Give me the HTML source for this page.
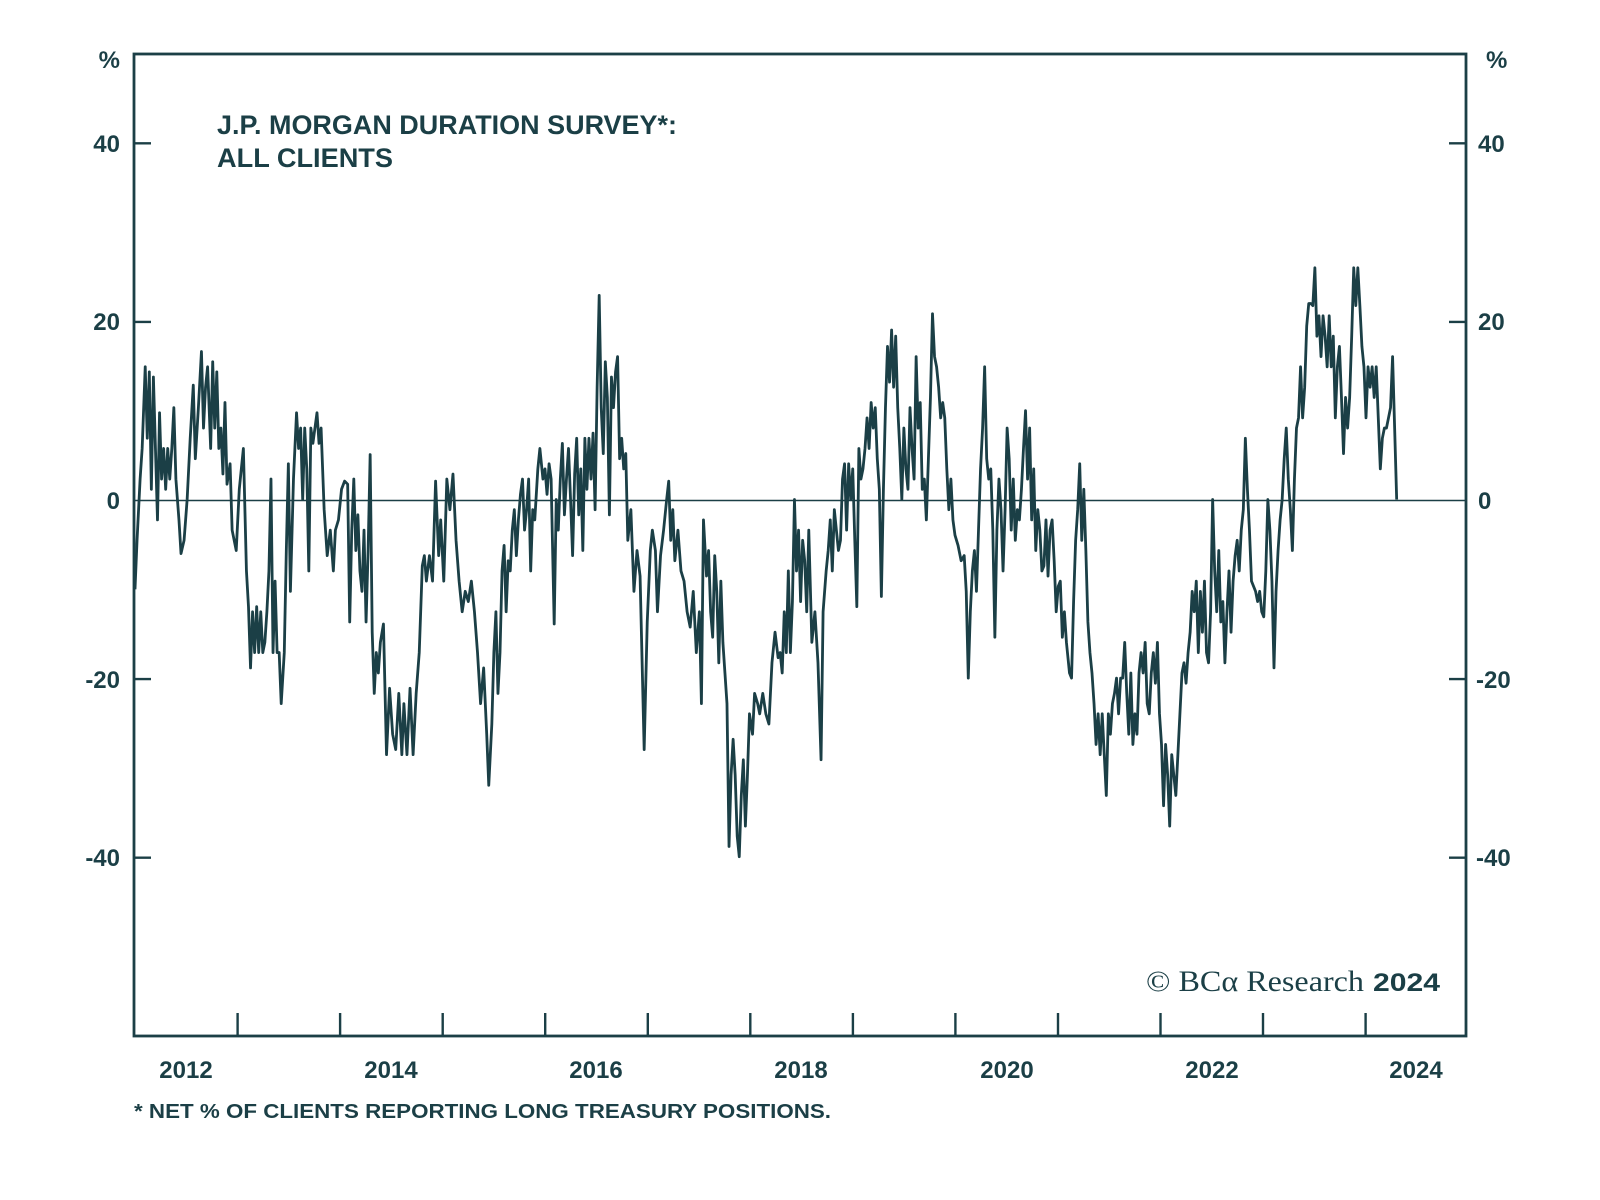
<!DOCTYPE html>
<html><head><meta charset="utf-8"><style>
html,body{margin:0;padding:0;background:#fff;}
svg{display:block;}
text{font-family:"Liberation Sans",sans-serif;fill:#1b3f46;}
</style></head><body>
<svg width="1600" height="1200" viewBox="0 0 1600 1200" xmlns="http://www.w3.org/2000/svg">
<rect width="1600" height="1200" fill="#fff"/>
<g stroke="#1b3f46" fill="none">
<rect x="134" y="54" width="1332" height="982" stroke-width="2.8"/>
<line x1="134" y1="500.5" x2="1466" y2="500.5" stroke-width="1.6"/>
<g stroke-width="2.4">
<line x1="134" y1="143.3" x2="151" y2="143.3"/><line x1="134" y1="321.9" x2="151" y2="321.9"/><line x1="134" y1="679.1" x2="151" y2="679.1"/><line x1="134" y1="857.7" x2="151" y2="857.7"/>
<line x1="1449" y1="143.3" x2="1466" y2="143.3"/><line x1="1449" y1="321.9" x2="1466" y2="321.9"/><line x1="1449" y1="679.1" x2="1466" y2="679.1"/><line x1="1449" y1="857.7" x2="1466" y2="857.7"/>
<line x1="237.6" y1="1013" x2="237.6" y2="1036"/><line x1="340.1" y1="1013" x2="340.1" y2="1036"/><line x1="442.7" y1="1013" x2="442.7" y2="1036"/><line x1="545.2" y1="1013" x2="545.2" y2="1036"/><line x1="647.8" y1="1013" x2="647.8" y2="1036"/><line x1="750.3" y1="1013" x2="750.3" y2="1036"/><line x1="852.9" y1="1013" x2="852.9" y2="1036"/><line x1="955.4" y1="1013" x2="955.4" y2="1036"/><line x1="1058" y1="1013" x2="1058" y2="1036"/><line x1="1160.5" y1="1013" x2="1160.5" y2="1036"/><line x1="1263" y1="1013" x2="1263" y2="1036"/><line x1="1365.6" y1="1013" x2="1365.6" y2="1036"/>
</g>
<g transform="matrix(1.02243 0 0 1.0206 1.06 -0.6)">
<polyline stroke-width="2.8" vector-effect="non-scaling-stroke" stroke-linejoin="round" points="131,578 133,530 136,470 138,440 141,360 143,430 145,365 147,480 149,370 151,440 153,510 155,405 157,470 159,440 161,480 163,440 165,470 167,440 169,400 171,470 174,510 176,543 179,530 182,490 185,430 188,378 190,450 193,400 196,345 198,420 200,380 202,360 205,440 207,355 209,420 211,365 213,440 215,420 217,465 219,395 221,475 224,455 226,520 230,540 233,480 237,440 240,560 242,595 244,655 246,600 248,640 250,595 252,640 254,600 256,640 258,630 260,600 262,560 264,470 266,640 268,570 270,640 272,640 274,690 277,640 279,540 281,455 283,580 286,470 289,405 291,440 293,420 295,490 297,420 299,460 301,560 303,420 305,435 307,420 309,405 311,435 313,420 316,500 319,545 322,520 325,560 327,520 330,510 333,480 336,472 339,475 341,610 343,520 345,470 347,540 349,505 351,560 353,580 355,520 357,610 359,540 361,446 363,620 365,680 367,640 369,660 371,630 374,612 377,740 380,675 383,720 386,735 389,680 392,740 394,690 397,740 400,675 403,740 406,680 409,640 412,555 414,545 416,570 419,545 422,570 425,472 428,545 430,510 433,570 436,470 439,500 442,465 445,530 448,570 451,600 454,580 457,590 460,570 463,600 466,640 469,690 472,655 475,720 477,770 480,710 482,640 484,600 486,680 488,640 490,560 492,535 494,600 496,550 498,560 500,520 502,500 504,545 506,510 508,485 510,470 512,520 514,500 516,470 518,560 520,500 522,510 525,460 527,440 530,470 532,460 534,485 536,455 538,470 541,612 543,490 545,520 547,470 549,435 551,505 553,470 555,440 557,490 559,545 561,465 563,430 565,505 567,460 569,540 571,430 573,480 575,430 577,470 579,425 581,500 583,380 585,290 587,400 589,445 591,355 593,390 595,505 597,370 599,400 601,365 603,350 605,450 607,430 609,460 611,445 613,530 616,500 619,580 622,540 625,565 629,735 632,610 635,540 637,520 640,540 642,600 645,545 648,520 651,490 653,472 655,530 657,500 659,550 662,520 665,560 668,570 671,600 674,615 677,580 680,640 683,600 685,690 687,510 690,565 692,540 694,600 696,625 698,545 700,580 702,650 704,570 706,630 708,660 710,690 712,830 714,760 716,725 718,760 720,820 722,840 724,780 726,745 728,810 730,760 732,700 735,720 737,680 740,690 742,700 745,680 748,700 751,710 754,650 757,620 760,645 762,640 764,660 766,600 768,640 770,560 772,640 774,590 776,490 778,560 780,520 782,590 784,530 786,550 788,600 790,520 793,630 796,600 799,650 802,745 804,600 807,560 809,540 811,510 813,560 815,500 817,520 819,540 821,530 823,470 825,455 827,520 829,455 831,490 833,460 835,530 837,595 839,440 841,470 843,460 845,440 847,410 849,440 851,395 853,420 855,400 857,450 859,480 861,585 863,480 865,400 867,340 869,375 871,324 873,380 875,330 877,400 879,440 881,490 883,420 885,460 887,480 889,400 891,440 893,470 895,350 897,420 899,395 901,480 903,470 905,510 907,450 909,390 911,308 913,350 915,360 917,380 919,410 921,395 923,410 925,460 927,500 929,470 931,510 933,525 936,535 939,550 942,545 944,580 946,665 948,600 950,560 952,540 954,580 956,520 958,460 960,420 962,360 964,450 966,470 968,460 970,520 972,625 974,520 976,470 978,500 980,560 982,500 984,420 986,450 988,520 990,470 992,530 994,500 996,510 998,480 1000,440 1002,403 1004,470 1006,420 1008,510 1010,460 1012,540 1014,500 1016,520 1018,560 1020,555 1022,510 1024,565 1026,520 1028,510 1030,550 1032,600 1034,575 1036,570 1038,625 1040,600 1042,630 1045,660 1047,665 1049,590 1051,530 1053,500 1055,455 1057,530 1059,480 1061,540 1063,610 1065,640 1067,660 1069,690 1071,730 1073,700 1075,740 1077,700 1079,740 1081,780 1083,700 1085,720 1087,690 1089,680 1091,665 1093,700 1095,665 1097,665 1099,630 1101,680 1103,720 1105,660 1107,730 1109,700 1111,720 1113,660 1115,640 1117,660 1119,630 1121,690 1123,700 1125,660 1127,640 1129,670 1131,630 1133,700 1135,730 1137,790 1139,730 1141,760 1143,810 1145,740 1147,760 1149,780 1151,740 1153,700 1155,660 1157,650 1159,670 1161,640 1163,620 1165,580 1167,600 1169,570 1171,640 1173,580 1175,620 1177,570 1179,640 1181,650 1183,600 1185,490 1187,560 1189,600 1191,540 1193,610 1195,590 1197,650 1199,600 1201,560 1203,620 1205,570 1207,545 1209,530 1211,560 1213,520 1215,500 1217,430 1219,480 1221,520 1223,570 1225,575 1227,580 1229,590 1231,580 1233,600 1235,605 1237,560 1239,490 1241,520 1243,570 1245,655 1247,580 1249,540 1251,510 1253,490 1255,450 1257,420 1259,470 1261,500 1263,540 1265,470 1267,420 1269,410 1271,360 1273,410 1275,380 1277,320 1279,298 1281,298 1283,300 1285,263 1287,330 1289,310 1291,350 1293,310 1295,330 1297,360 1299,310 1301,360 1303,330 1305,410 1307,360 1309,340 1311,390 1313,445 1315,390 1317,420 1319,390 1321,330 1323,263 1325,300 1327,263 1329,300 1331,340 1333,360 1335,410 1337,360 1339,380 1341,360 1343,390 1345,360 1347,410 1349,460 1351,430 1353,420 1355,420 1357,410 1359,400 1361,350 1363,420 1365,490"/>
</g>
</g>
<g font-weight="bold" font-size="24">
<text x="120" y="68" text-anchor="end">%</text>
<text x="1486" y="68">%</text>
<text x="120" y="152" text-anchor="end">40</text>
<text x="120" y="330" text-anchor="end">20</text>
<text x="120" y="509" text-anchor="end">0</text>
<text x="120" y="688" text-anchor="end">-20</text>
<text x="120" y="866" text-anchor="end">-40</text>
<text x="1478" y="152">40</text>
<text x="1478" y="330">20</text>
<text x="1478" y="509">0</text>
<text x="1476" y="688">-20</text>
<text x="1476" y="866">-40</text>
<g text-anchor="middle">
<text x="186" y="1078">2012</text><text x="391" y="1078">2014</text><text x="596" y="1078">2016</text><text x="801" y="1078">2018</text><text x="1007" y="1078">2020</text><text x="1212" y="1078">2022</text><text x="1416" y="1078">2024</text>
</g>
</g>
<text x="217" y="134" font-size="27" font-weight="bold" textLength="460" lengthAdjust="spacingAndGlyphs">J.P. MORGAN DURATION SURVEY*:</text>
<text x="217" y="167" font-size="27" font-weight="bold" textLength="176" lengthAdjust="spacingAndGlyphs">ALL CLIENTS</text>
<text x="134" y="1118" font-size="20" font-weight="bold" textLength="697" lengthAdjust="spacingAndGlyphs">* NET % OF CLIENTS REPORTING LONG TREASURY POSITIONS.</text>
<text x="1146" y="991" font-size="30" style="font-family:'Liberation Serif',serif" textLength="218" lengthAdjust="spacingAndGlyphs">© BCα Research</text>
<text x="1373" y="991" font-size="25" font-weight="bold" textLength="67" lengthAdjust="spacingAndGlyphs">2024</text>
</svg>
</body></html>
